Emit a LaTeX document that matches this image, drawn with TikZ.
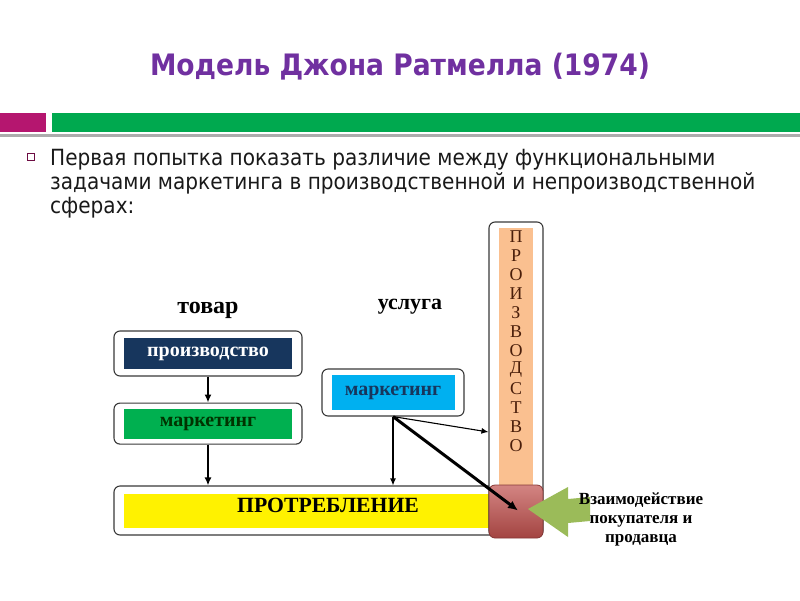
\documentclass[tikz,border=0pt]{standalone}
\usepackage{fontspec}
\setmainfont{Liberation Serif}
\newfontfamily\slidefont{DejaVu Sans Condensed}
\usepackage{xcolor}
\usepackage{tikz}
\usetikzlibrary{arrows.meta,positioning,calc,backgrounds}

\definecolor{titlePurple}{HTML}{7030A0}
\definecolor{barMagenta}{HTML}{B5166F}
\definecolor{barGreen}{HTML}{00A94F}
\definecolor{prodNavy}{HTML}{17365D}
\definecolor{mktGreen}{HTML}{00B050}
\definecolor{mktBlue}{HTML}{00B0F0}
\definecolor{peach}{HTML}{FAC090}
\definecolor{meetRed}{HTML}{C0504D}
\definecolor{hintGreen}{HTML}{9BBB59}
\definecolor{letterBrown}{HTML}{4A1E0A}

\begin{document}
\begin{tikzpicture}[
    x=1pt, y=-1pt,
    shellBox/.style={
        rectangle, rounded corners=6pt, draw=gray!45!black, line width=1.1pt,
        fill=white, inner sep=0pt
    },
    fillBox/.style={
        rectangle, inner sep=0pt, font=\bfseries\fontsize{20}{22}\selectfont
    },
    tagText/.style={
        font=\bfseries\fontsize{24}{26}\selectfont
    },
    columnLetter/.style={
        font=\fontsize{18}{18}\selectfont, text=letterBrown, inner sep=0pt
    },
    flowArrow/.style={
        -{Latex[length=8pt, width=7pt]}, line width=1.8pt
    },
    thinArrow/.style={
        -{Latex[length=7pt, width=6pt]}, line width=1.1pt
    },
    boldArrow/.style={
        -{Latex[length=10pt, width=9pt]}, line width=3pt
    }
]
\useasboundingbox (0,0) rectangle (800,600);

% Slide header
\node[font=\slidefont\bfseries\fontsize{29.5}{32}\selectfont, text=titlePurple] (title) at (400,67) {Модель Джона Ратмелла (1974)};
\fill[barMagenta] (0,113) rectangle (46,132);
\fill[barGreen] (52,113) rectangle (800,132);
\fill[gray!65] (0,134) rectangle (800,137);

\node[draw=barMagenta!60!black, line width=0.6pt, minimum size=7pt, inner sep=0pt] (bullet) at (31,157) {};
\node[anchor=north west, align=left, inner sep=0pt, text=black!90,
      font=\slidefont\fontsize{22.3}{24}\selectfont] (intro) at (50,149) {Первая попытка показать различие между функциональными\\задачами маркетинга в производственной и непроизводственной\\сферах:};

% Left: goods
\node[tagText] (goodsTag) at (208,310) {товар};
\node[shellBox, minimum width=188pt, minimum height=45pt] (prodShell) at (208,353.5) {};
\node[fillBox, fill=prodNavy, text=white, minimum width=168pt, minimum height=31pt] (prod) at (prodShell.center) {производство};
\node[shellBox, minimum width=188pt, minimum height=41pt, below=26pt of prodShell] (mktShell) {};
\node[fillBox, fill=mktGreen, text=black!80!green, minimum width=168pt, minimum height=30pt] (mkt) at (mktShell.center) {маркетинг};

% Middle: service
\node[tagText, font=\bfseries\fontsize{22}{24}\selectfont] (serviceTag) at (410,307) {услуга};
\node[shellBox, minimum width=142pt, minimum height=47pt] (servShell) at (393,392.5) {};
\node[fillBox, fill=mktBlue, text=prodNavy, minimum width=123pt, minimum height=35pt] (servMkt) at (servShell.center) {маркетинг};

% Bottom: consumption
\node[shellBox, minimum width=426pt, minimum height=49pt] (consShell) at (327,510.5) {};
\node[fillBox, fill=yellow, minimum width=366pt, minimum height=34pt] (cons) at (307,511) {};
\node[font=\bfseries\fontsize{21.7}{23}\selectfont] (consText) at (328,505) {ПРОТРЕБЛЕНИЕ};

% Right: production column
\node[shellBox, minimum width=54pt, minimum height=315pt] (colShell) at (516,379.5) {};
\node[fillBox, fill=peach, minimum width=34pt, minimum height=257pt] (col) at (516,356.5) {};
\foreach \ch [count=\i] in {П,Р,О,И,З,В,О,Д,С,Т,В,О}
    \node[columnLetter] (letter\i) at (516,218+19*\i) {\ch};
\node[rectangle, rounded corners=6pt, draw=meetRed!70!black, line width=0.8pt,
      top color=meetRed!70!white, bottom color=meetRed!85!black,
      minimum width=54pt, minimum height=53pt] (meet) at (516,511.5) {};

% Flows
\draw[flowArrow] (prodShell.south) -- (mktShell.north);
\draw[flowArrow] (mktShell.south) -- (mktShell.south |- consShell.north);
\draw[thinArrow] (servShell.south) -- (servShell.south |- consShell.north);
\draw[thinArrow] (servShell.south) -- ($(colShell.west)+(0,52.5)$);
\draw[boldArrow] (servShell.south) -- ($(meet.center)+(2,-1)$);

% Interaction hint
\fill[hintGreen] (528,509) -- (568,487) -- (568,499) -- (590,497) -- (590,521) -- (568,523) -- (568,537) -- cycle;
\node[align=center, font=\bfseries\fontsize{17}{19}\selectfont] (hint) at (641,519) {Взаимодействие\\покупателя и\\продавца};

\end{tikzpicture}
\end{document}
